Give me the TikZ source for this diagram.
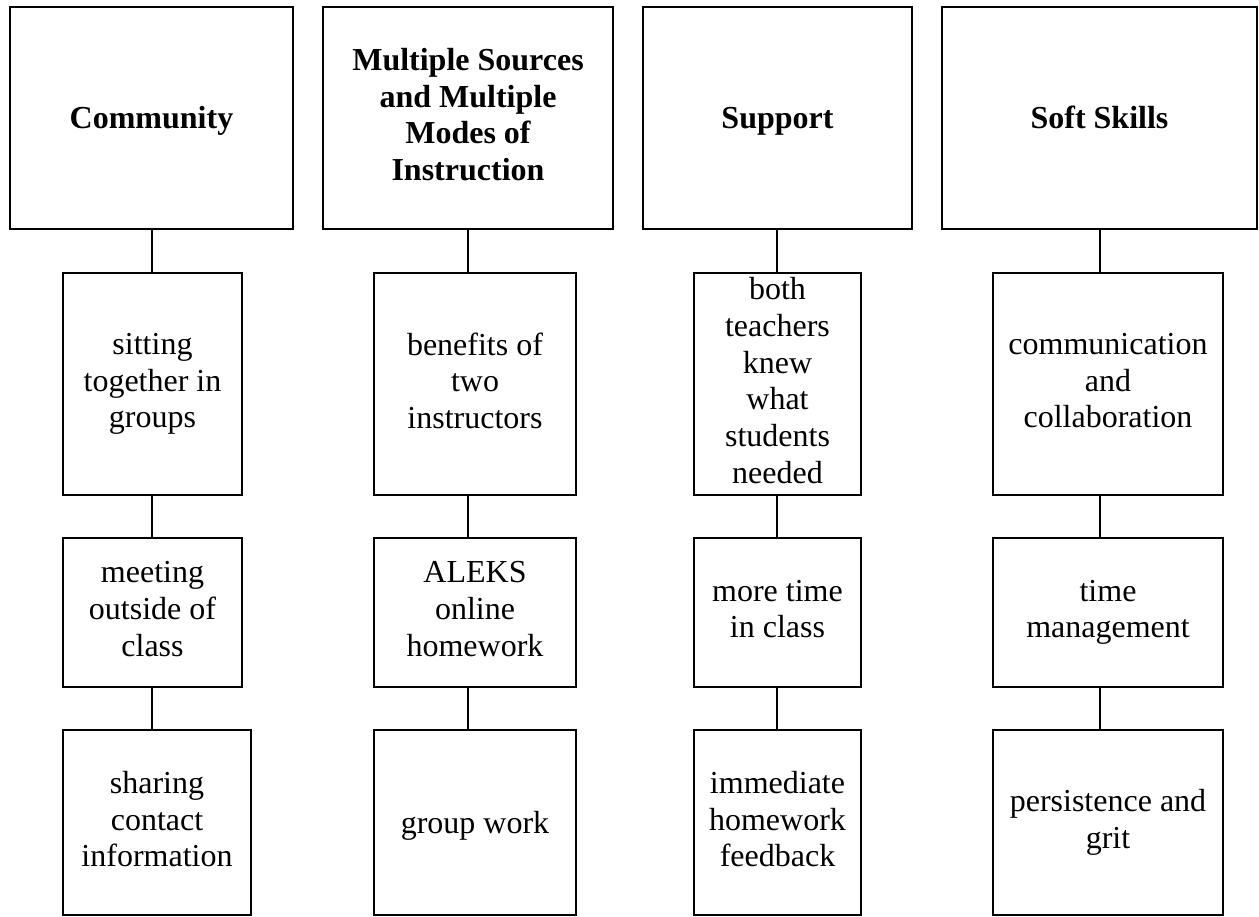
\documentclass[tikz,border=0pt]{standalone}
\usepackage{fontspec}
\setmainfont{Liberation Serif}
\newcommand{\lnstrut}{\rule[-0.216em]{0pt}{1.107em}}
\tikzset{
  box/.style={draw, line width=1.7pt, inner sep=0pt, outer sep=0pt, align=center,
    font=\fontsize{32}{36.7}\selectfont,
    execute at begin node={\lnstrut}, execute at end node={\lnstrut}},
  head/.style={box, font=\bfseries\fontsize{32}{36.7}\selectfont},
  link/.style={line width=1.4pt}
}
\begin{document}
\begin{tikzpicture}[x=1pt,y=-1pt]
\useasboundingbox (0,0) rectangle (1259,917);
% column 1
\node[head, minimum width=283pt, minimum height=222pt] (h1) at (151.5,118) {Community};
\node[box, minimum width=179pt, minimum height=222pt] (a1) at (152.5,384) {sitting\\together in\\groups};
\node[box, minimum width=179pt, minimum height=149pt] (b1) at (152.5,612.5) {meeting\\outside of\\class};
\node[box, minimum width=188pt, minimum height=185pt] (c1) at (157,822.5) {sharing\\contact\\information};
% column 2
\node[head, minimum width=290pt, minimum height=222pt] (h2) at (468,118) {Multiple Sources\\and Multiple\\Modes of\\Instruction};
\node[box, minimum width=202pt, minimum height=222pt] (a2) at (475,384) {benefits of\\two\\instructors};
\node[box, minimum width=202pt, minimum height=149pt] (b2) at (475,612.5) {ALEKS\\online\\homework};
\node[box, minimum width=202pt, minimum height=185pt] (c2) at (475,822.5) {group work};
% column 3
\node[head, minimum width=269pt, minimum height=222pt] (h3) at (777.5,118) {Support};
\node[box, minimum width=167pt, minimum height=222pt] (a3) at (777.5,384) {both\\teachers\\knew\\what\\students\\needed};
\node[box, minimum width=167pt, minimum height=149pt] (b3) at (777.5,612.5) {more time\\in class};
\node[box, minimum width=167pt, minimum height=185pt] (c3) at (777.5,822.5) {immediate\\homework\\feedback};
% column 4
\node[head, minimum width=315pt, minimum height=222pt] (h4) at (1099.5,118) {Soft Skills};
\node[box, minimum width=230pt, minimum height=222pt] (a4) at (1108,384) {communication\\and\\collaboration};
\node[box, minimum width=230pt, minimum height=149pt] (b4) at (1108,612.5) {time\\management};
\node[box, minimum width=230pt, minimum height=185pt] (c4) at (1108,822.5) {persistence and\\grit};
% connector x positions
\coordinate (x1) at (152,0);
\coordinate (x2) at (468,0);
\coordinate (x3) at (777,0);
\coordinate (x4) at (1100,0);
\foreach \i in {1,2,3,4}{
  \draw[link] (h\i.south -| x\i) -- (a\i.north -| x\i);
  \draw[link] (a\i.south -| x\i) -- (b\i.north -| x\i);
  \draw[link] (b\i.south -| x\i) -- (c\i.north -| x\i);
}
\end{tikzpicture}
\end{document}
